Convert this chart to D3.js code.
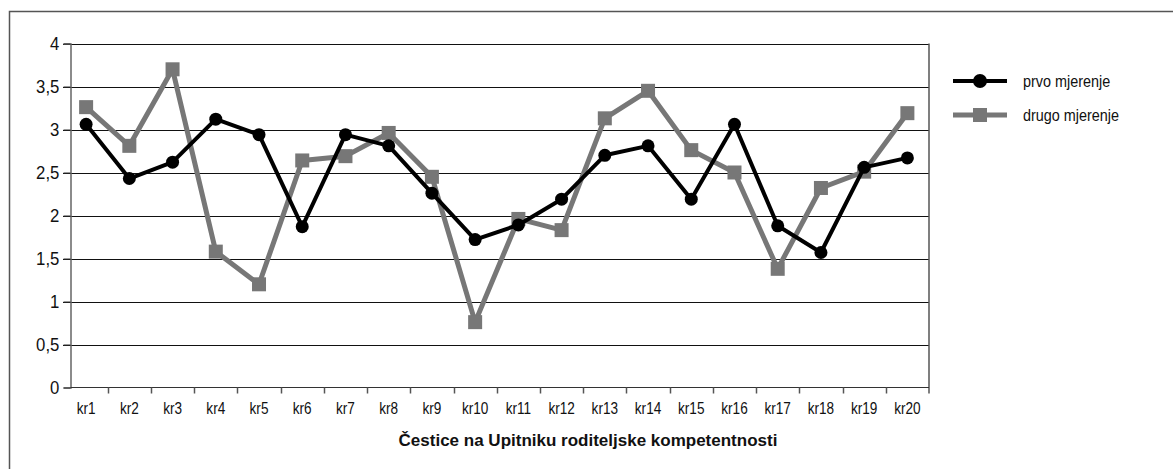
<!DOCTYPE html>
<html>
<head>
<meta charset="utf-8">
<script src="https://cdn.jsdelivr.net/npm/d3@7"></script>
<style>
  body { margin: 0; background: #fff; }
  text { font-family: "Liberation Sans", Arial, sans-serif; fill: #111; }
</style>
</head>
<body>
<svg id="chart" width="1173" height="469"></svg>
<script>
const categories = ["kr1","kr2","kr3","kr4","kr5","kr6","kr7","kr8","kr9","kr10",
  "kr11","kr12","kr13","kr14","kr15","kr16","kr17","kr18","kr19","kr20"];
const prvo = [3.06, 2.43, 2.62, 3.12, 2.94, 1.87, 2.94, 2.81, 2.26, 1.72,
  1.89, 2.19, 2.70, 2.81, 2.19, 3.06, 1.88, 1.57, 2.56, 2.67];
const drugo = [3.26, 2.81, 3.70, 1.58, 1.20, 2.64, 2.69, 2.96, 2.45, 0.76,
  1.96, 1.83, 3.13, 3.45, 2.76, 2.50, 1.38, 2.32, 2.51, 3.19];
const yTicks = [0, 0.5, 1, 1.5, 2, 2.5, 3, 3.5, 4];
const seriesNames = ["prvo mjerenje", "drugo mjerenje"];
const xTitle = "Čestice na Upitniku roditeljske kompetentnosti";

const svg = d3.select("#chart");
const plotLeft = 70.5;
const plotRight = 929;

// outer frame (runs off the right and bottom edge)
svg.append("rect")
  .attr("x", 9.5).attr("y", 11.5)
  .attr("width", 1200).attr("height", 500)
  .attr("fill", "none").attr("stroke", "#555").attr("stroke-width", 1.5);

const x = d3.scaleBand().domain(categories).range([64.5, plotRight]);
const y = d3.scaleLinear().domain([0, 4]).range([387.5, 43.5]);

// gridlines
svg.append("g")
  .selectAll("line")
  .data(yTicks.filter((d) => d > 0))
  .enter()
  .append("line")
  .attr("x1", 63).attr("x2", plotRight)
  .attr("y1", (d) => Math.round(y(d)) + 0.5)
  .attr("y2", (d) => Math.round(y(d)) + 0.5)
  .attr("stroke", "#111").attr("stroke-width", 1);

// y axis
const yAxis = svg.append("g")
  .attr("transform", "translate(" + plotLeft + ",0)")
  .call(d3.axisLeft(y).tickValues(yTicks).tickSize(7).tickPadding(5)
    .tickFormat((d) => String(d).replace(".", ",")));
yAxis.select(".domain").attr("stroke", "#666").attr("stroke-width", 1.5);
yAxis.selectAll(".tick line").attr("stroke", "#333");
yAxis.selectAll("text")
  .style("font-size", "18px")
  .attr("fill", "#111")
  .attr("transform", "scale(0.93,1)");

// right edge of plot
svg.append("line")
  .attr("x1", plotRight).attr("x2", plotRight)
  .attr("y1", y(4)).attr("y2", y(0) + 6)
  .attr("stroke", "#555").attr("stroke-width", 1.5);

// x axis
const xAxisG = svg.append("g").attr("transform", "translate(0," + (y(0)) + ")");
xAxisG.append("line")
  .attr("x1", plotLeft).attr("x2", plotRight)
  .attr("stroke", "#333").attr("stroke-width", 1.2);
xAxisG.selectAll(".tk")
  .data(categories.slice(1))
  .enter()
  .append("line")
  .attr("x1", (d) => Math.round(x(d)) + 0.5)
  .attr("x2", (d) => Math.round(x(d)) + 0.5)
  .attr("y1", 0).attr("y2", 6)
  .attr("stroke", "#555").attr("stroke-width", 1.5);
xAxisG.selectAll(".lbl")
  .data(categories)
  .enter()
  .append("text")
  .attr("transform", (d) => "translate(" + (x(d) + x.bandwidth() / 2) + ",26) scale(0.85,1)")
  .attr("text-anchor", "middle")
  .style("font-size", "16px")
  .text((d) => d);

svg.append("text")
  .attr("x", 588)
  .attr("y", 446)
  .attr("text-anchor", "middle")
  .style("font-size", "17px")
  .style("font-weight", "bold")
  .text(xTitle);

const cx = (d, i) => x(categories[i]) + x.bandwidth() / 2;
const line = d3.line().x(cx).y((d) => y(d));

// drugo mjerenje (gray squares)
const gray = "#777777";
svg.append("path")
  .attr("d", line(drugo))
  .attr("fill", "none").attr("stroke", gray).attr("stroke-width", 5)
  .attr("stroke-linejoin", "round");
svg.selectAll(".sq")
  .data(drugo)
  .enter()
  .append("rect")
  .attr("x", (d, i) => cx(d, i) - 7)
  .attr("y", (d) => y(d) - 7)
  .attr("width", 14).attr("height", 14)
  .attr("fill", gray);

// prvo mjerenje (black circles)
svg.append("path")
  .attr("d", line(prvo))
  .attr("fill", "none").attr("stroke", "#000").attr("stroke-width", 4)
  .attr("stroke-linejoin", "round");
svg.selectAll(".dot")
  .data(prvo)
  .enter()
  .append("circle")
  .attr("cx", cx)
  .attr("cy", (d) => y(d))
  .attr("r", 6.5)
  .attr("fill", "#000");

// legend
const legend = svg.append("g");
const legendRows = [
  { name: seriesNames[0], color: "#000", width: 4, shape: "circle", yy: 81 },
  { name: seriesNames[1], color: gray, width: 5, shape: "rect", yy: 115 },
];
legendRows.forEach((r) => {
  legend.append("line")
    .attr("x1", 953).attr("x2", 1007)
    .attr("y1", r.yy).attr("y2", r.yy)
    .attr("stroke", r.color).attr("stroke-width", r.width);
  if (r.shape === "circle") {
    legend.append("circle").attr("cx", 980).attr("cy", r.yy).attr("r", 7).attr("fill", r.color);
  } else {
    legend.append("rect").attr("x", 973).attr("y", r.yy - 7)
      .attr("width", 14).attr("height", 14).attr("fill", r.color);
  }
  legend.append("text")
    .attr("transform", "translate(1023," + (r.yy + 5.5) + ") scale(0.9,1)")
    .style("font-size", "16px")
    .text(r.name);
});
</script>
</body>
</html>
